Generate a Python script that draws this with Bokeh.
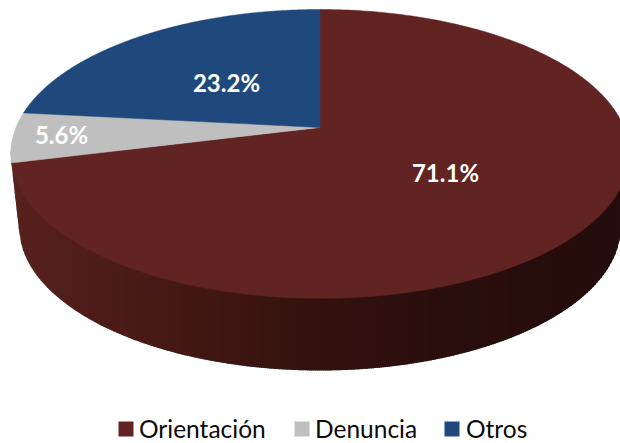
import numpy as np
from bokeh.plotting import figure
from bokeh.models import Range1d
from bokeh.core.properties import value
from bokeh.embed import file_html
from bokeh.resources import INLINE

categories = ["Orientación", "Denuncia", "Otros"]
shares = [71.1, 5.6, 23.2]
colors = ["#622423", "#BFBFBF", "#1F497D"]

FONT = value("Lato")
W, H = 620, 443
p = figure(width=W, height=H, output_backend="svg", toolbar_location=None,
           x_range=Range1d(0, W), y_range=Range1d(H, 0),
           min_border=0, outline_line_color=None)
p.axis.visible = False
p.grid.visible = False

# Perspective disc: unit-circle point -> screen
CX, APEX_Y, RX, SY, K = 319.5, 127.0, 304.0, 139.6, 0.183


def project(theta):
    u, v = np.sin(theta), np.cos(theta)
    w = 1 + K * v
    return CX + RX * u / w, APEX_Y - SY * v / w


# Side wall
t = np.linspace(0, 2 * np.pi, 721)
tx, ty = project(t)
bx = 319.5 + 301 * np.cos(t)
by = 226 + 144 * np.sin(t)


def lower_hull(x, y):
    pts = sorted(zip(x, y))
    out = []
    for q in pts:
        while len(out) >= 2:
            (x1, y1), (x2, y2) = out[-2], out[-1]
            if (x2 - x1) * (q[1] - y1) - (y2 - y1) * (q[0] - x1) >= 0:
                out.pop()
            else:
                break
        out.append(q)
    return np.array(out)


hull = lower_hull(np.r_[tx, bx], np.r_[ty, by])
stops_x = [11, 160, 320, 480, 625]
stops = np.array([[0x58, 0x22, 0x1d], [0x47, 0x1a, 0x17], [0x33, 0x12, 0x10], [0x29, 0x0f, 0x0d], [0x24, 0x0d, 0x0c]])
edges = np.arange(tx.min(), 630, 2.0)
xs, ys, cs = [], [], []
for a, b in zip(edges[:-1], edges[1:]):
    mid = (a + b) / 2
    rgb = [int(np.interp(mid, stops_x, stops[:, i])) for i in range(3)]
    c = "#%02x%02x%02x" % tuple(rgb)
    b2 = b + 1
    xs.append([a, b2, b2, a])
    ys.append([150, 150, float(np.interp(b2, hull[:, 0], hull[:, 1])), float(np.interp(a, hull[:, 0], hull[:, 1]))])
    cs.append(c)
p.patches(xs, ys, fill_color=cs, line_color=None)

# Top surface slices
total = 0.0
for share, col in zip(shares, colors):
    a0 = total / 100 * 2 * np.pi
    total += share
    a1 = total / 100 * 2 * np.pi if col != colors[-1] else 2 * np.pi
    th = np.linspace(a0, a1, 240)
    sx, sy = project(th)
    p.patch(np.r_[CX, sx], np.r_[APEX_Y, sy], fill_color=col, line_color=col, line_width=0.5)

# Data labels
label_x = [445, 61, 226]
label_y = [171.5, 133.5, 81.5]
p.text(label_x, label_y, text=[f"{s}%" for s in shares], text_color="white",
       text_font=FONT, text_font_style="bold", text_font_size="24px",
       text_align="center", text_baseline="middle")

# Legend
sw_x = [118, 294, 444]
text_x = [138.5, 314.5, 465.5]
p.quad(left=sw_x, right=[x + 15 for x in sw_x], top=[421] * 3, bottom=[436] * 3,
       fill_color=colors, line_color=None)
p.text(text_x, [427.5] * 3, text=categories, text_color="#0a0a0a", text_font=FONT,
       text_font_size="24.5px", text_align="left", text_baseline="middle")

open("out.html", "w").write(file_html(p, INLINE))
